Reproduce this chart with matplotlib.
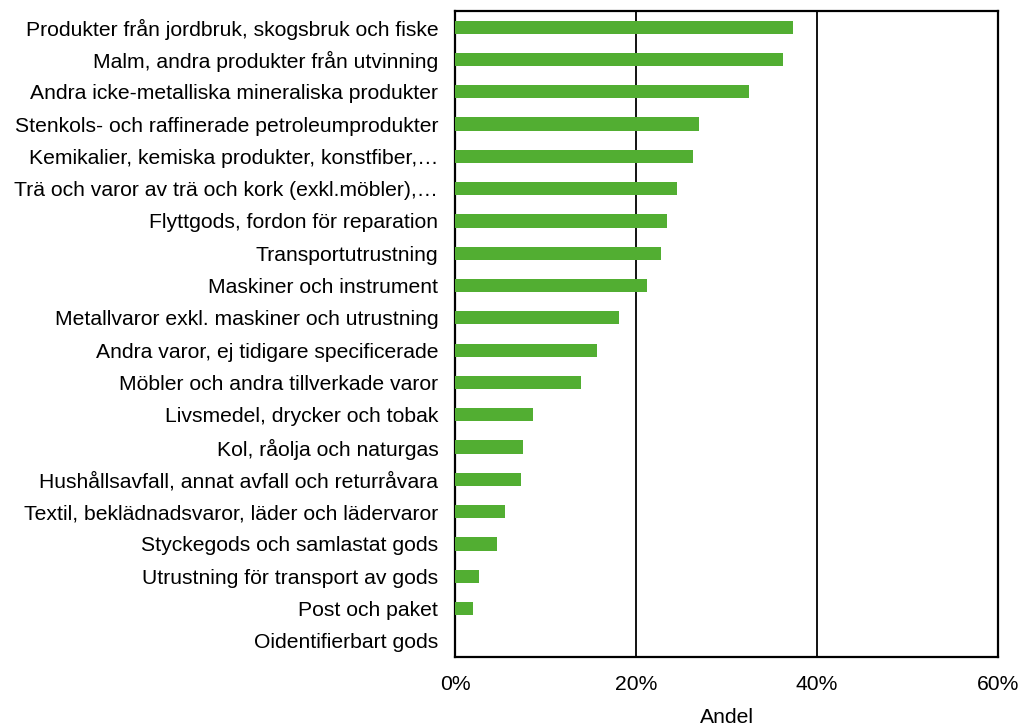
import matplotlib
matplotlib.use("Agg")
import matplotlib.pyplot as plt
from matplotlib.ticker import FuncFormatter

categories = [
    "Produkter från jordbruk, skogsbruk och fiske",
    "Malm, andra produkter från utvinning",
    "Andra icke-metalliska mineraliska produkter",
    "Stenkols- och raffinerade petroleumprodukter",
    "Kemikalier, kemiska produkter, konstfiber,…",
    "Trä och varor av trä och kork (exkl.möbler),…",
    "Flyttgods, fordon för reparation",
    "Transportutrustning",
    "Maskiner och instrument",
    "Metallvaror exkl. maskiner och utrustning",
    "Andra varor, ej tidigare specificerade",
    "Möbler och andra tillverkade varor",
    "Livsmedel, drycker och tobak",
    "Kol, råolja och naturgas",
    "Hushållsavfall, annat avfall och returråvara",
    "Textil, beklädnadsvaror, läder och lädervaror",
    "Styckegods och samlastat gods",
    "Utrustning för transport av gods",
    "Post och paket",
    "Oidentifierbart gods",
]
values = [0.373, 0.362, 0.325, 0.270, 0.263, 0.245, 0.234, 0.228, 0.212, 0.181,
          0.157, 0.139, 0.086, 0.075, 0.073, 0.055, 0.046, 0.027, 0.020, 0.0]
xticks = [0, 0.2, 0.4, 0.6]
xlabel = "Andel"

plt.rcParams['font.family'] = ['Liberation Sans', 'DejaVu Sans']

fig = plt.figure(figsize=(10.21, 7.26), dpi=100)
ax = fig.add_axes([455/1021, 1-657/726, (998-455)/1021, (657-11)/726])

fs = 15.2
y = list(range(len(categories)))
ax.barh(y, values, height=0.41, color="#52AE32", zorder=3)
ax.set_ylim(len(categories)-0.5, -0.5)
ax.set_xlim(0, 0.6)
ax.set_yticks(y)
ax.set_yticklabels(categories, fontsize=fs)
ax.set_xticks(xticks)
ax.xaxis.set_major_formatter(FuncFormatter(lambda v, p: f"{v*100:.0f}%"))
ax.tick_params(axis='x', labelsize=fs, length=0, pad=13)
ax.tick_params(axis='y', length=0, pad=12)
ax.set_xlabel(xlabel, fontsize=fs, labelpad=10)
for v in xticks[1:3]:
    ax.axvline(v, color="black", linewidth=1.3, zorder=2)
for s in ax.spines.values():
    s.set_linewidth(1.6)
    s.set_color("black")

fig.savefig("out.png", dpi=100)
